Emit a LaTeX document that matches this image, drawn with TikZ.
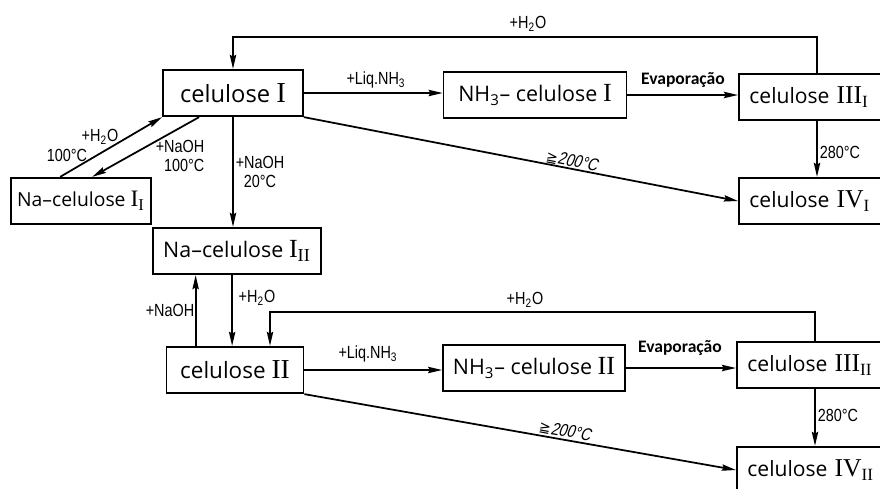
\documentclass[tikz,border=0pt]{standalone}
\usepackage{fontspec}
\setmainfont{Open Sans}
\newfontfamily\romfont{Liberation Serif}[Scale=1.22]
\newfontfamily\lblfont{Liberation Sans}[FakeStretch=0.82]
\newfontfamily\slfont{Liberation Sans}[FakeStretch=0.82,FakeSlant=0.2]
\newfontfamily\evfont{Carlito}
\newfontfamily\symfont{DejaVu Sans}
\usetikzlibrary{arrows.meta,calc}

\newcommand{\rom}[1]{{\romfont #1}}
\newcommand{\rsub}[1]{\textsubscript{\romfont #1}}

\tikzset{
  cbox/.style={draw,line width=1pt,inner sep=0pt,minimum height=0.93cm},
  rbox/.style={cbox,anchor=west,text width=2.9cm,align=left,inner xsep=6pt,
    font=\fontsize{12}{14}\selectfont},
  arr/.style={line width=1pt,-{Stealth[length=8pt,width=3.6pt,inset=1pt]}},
  lbl/.style={font=\lblfont\fontsize{10}{11}\selectfont,inner sep=0pt,align=center},
  sllbl/.style={font=\slfont\fontsize{10}{11}\selectfont,inner sep=0pt},
  evlbl/.style={font=\evfont\bfseries\fontsize{10}{11}\selectfont,inner sep=0pt}
}

\begin{document}
\begin{tikzpicture}[x=0.02cm,y=-0.02cm]
  \useasboundingbox (0,0) rectangle (880,488);

  % upper row: celulose I
  \node[cbox,minimum width=2.8cm,font=\fontsize{13.5}{15}\selectfont] (celI) at (233,93) {celulose \rom{I}};
  \node[cbox,minimum width=3.66cm,font=\fontsize{12.2}{14}\selectfont] (nhI) at (535,95) {NH\textsubscript{3}– celulose \rom{I}};
  \node[rbox] (cIIIa) at (738,97) {celulose \rom{III}\rsub{I}};
  \node[rbox] (cIVa) at (738,201) {celulose \rom{IV}\rsub{I}};
  \node[cbox,minimum width=2.8cm,font=\fontsize{11}{13}\selectfont] (naI) at (81,201) {Na–celulose \rom{I}\rsub{I}};
  \node[cbox,minimum width=3.36cm,font=\fontsize{12.2}{14}\selectfont] (naII) at (237,251) {Na–celulose \rom{I}\rsub{II}};

  % lower row: celulose II
  \node[cbox,minimum width=2.74cm,font=\fontsize{12.8}{14}\selectfont] (celII) at (235,370) {celulose \rom{II}};
  \node[cbox,minimum width=3.64cm,font=\fontsize{12.2}{14}\selectfont] (nhII) at (534,368) {NH\textsubscript{3}– celulose \rom{II}};
  \node[rbox] (cIIIb) at (736,365) {celulose \rom{III}\rsub{II}};
  \node[rbox] (cIVb) at (736,470) {celulose \rom{IV}\rsub{II}};

  \coordinate (ta) at (817,37);
  \coordinate (tb) at (815,312);
  \coordinate (tb2) at (270,312);

  % celulose I routes
  \draw[arr] (cIIIa.north -| ta) -- (ta) -- (ta -| celI.north) -- (celI.north);
  \node[lbl] (h2oa) at (528,24) {+H\textsubscript{2}O};
  \draw[arr] (celI.east) -- (celI.east -| nhI.west);
  \node[lbl] (liqa) at (376,80) {+Liq.NH\textsubscript{3}};
  \draw[arr] (nhI.east) -- (nhI.east -| cIIIa.west);
  \node[evlbl] (eva) at (683,80) {Evaporação};
  \draw[arr] (celI.south east) -- (cIVa.west);
  \node[sllbl,rotate=-11] (ta200) at (572,161) {{\symfont\fontsize{8}{9}\selectfont ≧}200°C};
  \draw[arr] (cIIIa.south -| ta) -- (cIVa.north -| ta);
  \node[lbl] (t280a) at (840,152) {280°C};

  % Na-celulose I_I
  \draw[arr] ($(naI.north west)+(50,0)$) -- (celI.south west);
  \node[lbl] (h2ob) at (100,137) {+H\textsubscript{2}O};
  \node[lbl] (t100a) at (67,155) {100°C};
  \draw[arr] ($(celI.south west)+(37,0)$) -- ($(naI.north west)+(82,0)$);
  \node[lbl,align=right] (naoha) at (180,156) {+NaOH\\100°C};

  % Na-celulose I_II
  \draw[arr] (celI.south) -- (celI.south |- naII.north);
  \node[lbl] (naohb) at (260,172) {+NaOH\\20°C};
  \draw[arr] ($(celII.north west)+(30,0)$) coordinate (up) -- (up |- naII.south);
  \node[lbl] (naohc) at (170,310) {+NaOH};
  \draw[arr] ($(naII.south west)+(80,0)$) coordinate (dn) -- (dn |- celII.north);
  \node[lbl] (h2oc) at (257,298) {+H\textsubscript{2}O};

  % celulose II routes
  \draw[arr] (cIIIb.north -| tb) -- (tb) -- (tb2) -- (tb2 |- celII.north);
  \node[lbl] (h2od) at (525,300) {+H\textsubscript{2}O};
  \draw[arr] (celII.east) -- (celII.east -| nhII.west);
  \node[lbl] (liqb) at (368,354) {+Liq.NH\textsubscript{3}};
  \draw[arr] (nhII.east) -- (nhII.east -| cIIIb.west);
  \node[evlbl] (evb) at (680,348) {Evaporação};
  \draw[arr] (celII.south east) -- (cIVb.west);
  \node[sllbl,rotate=-10] (tb200) at (565,431) {{\symfont\fontsize{8}{9}\selectfont ≧}200°C};
  \draw[arr] (cIIIb.south -| tb) -- (cIVb.north -| tb);
  \node[lbl] (t280b) at (838,415) {280°C};
\end{tikzpicture}
\end{document}
